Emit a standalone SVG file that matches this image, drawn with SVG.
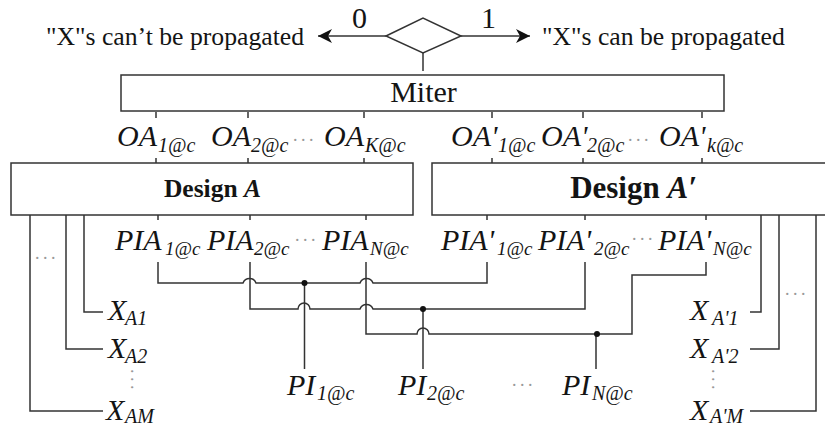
<svg xmlns="http://www.w3.org/2000/svg" width="825" height="428" viewBox="0 0 825 428">
<style>
text{font-family:"Liberation Serif","Times New Roman",serif;fill:#141414}
.m{font-size:30px;font-style:italic}
.s{font-size:20px;font-style:italic}
.n{font-size:19px;font-style:italic}
.c{font-size:25.700px}
.d{fill:#999;font-size:18px;letter-spacing:3.500px}
.b{fill:#fff;stroke:#333;stroke-width:1.500}
.l{fill:none;stroke:#333;stroke-width:1.500}
.j{fill:#111}
</style>
<defs>
<marker id="ah" markerWidth="16" markerHeight="14" refX="14" refY="7" orient="auto-start-reverse" markerUnits="userSpaceOnUse"><path d="M0 0L14 7L0 14L4 7Z" fill="#111"/></marker>
</defs>
<rect width="825" height="428" fill="#fff"/>
<g id="connectors">
<path class="l" d="M386 36H318" marker-end="url(#ah)"/>
<path class="l" d="M461 36H530" marker-end="url(#ah)"/>
<path class="l" d="M423 53V71"/>
<path class="l" d="M156 112V118M248 112V118M364 112V118M492 112V118M583 112V118M702 112V118"/>
<path class="l" d="M156 158V163M248 158V163M364 158V163M492 158V163M583 158V163M702 158V163"/>
<path class="l" d="M158 215V220M250 215V220M366 215V220M487 215V220M585 215V220M706 215V220"/>
<path class="l" d="M158 262V283H243a7 7 0 0 1 13 0H360a7 7 0 0 1 13 0H487V262"/>
<path class="l" d="M250 262V309H298a6 6 0 0 1 12 0H360a7 7 0 0 1 13 0H585V262"/>
<path class="l" d="M366 262V334H417a6 6 0 0 1 12 0H632V275H706V262"/>
<path class="l" d="M304.500 283V369M423 309V369M596 334V369"/>
<path class="l" d="M84 215V312H103M66 215V349H103M30 215V411H103"/>
<path class="l" d="M761 215V312H750M779 215V349H750M816 215V411H750"/>
<circle class="j" cx="304.500" cy="283" r="3"/>
<circle class="j" cx="423" cy="309" r="3"/>
<circle class="j" cx="597" cy="334" r="3"/>
</g>
<g id="decision"><path class="b" d="M386 36L423 18L461 36L423 53Z"/></g>
<g id="miter"><rect class="b" x="121" y="75" width="603" height="36"/><text x="423.500" y="101.500" font-size="30" text-anchor="middle">Miter</text></g>
<g id="design-a"><rect class="b" x="11" y="163" width="402" height="52"/><text x="212.500" y="197" font-size="25.500" font-weight="bold" text-anchor="middle">Design <tspan font-style="italic">A</tspan></text></g>
<g id="design-a-prime"><rect class="b" x="432" y="163" width="400" height="52"/><text x="633.500" y="198" font-size="31" font-weight="bold" text-anchor="middle">Design <tspan font-style="italic">A′</tspan></text></g>
<g id="labels-top">
<text x="46" y="45" class="c">"X"s can’t be propagated</text>
<text x="542" y="45" class="c">"X"s can be propagated</text>
<text x="352" y="28" font-size="30">0</text>
<text x="481" y="28" font-size="30">1</text>
</g>
<g id="outputs-a">
<text x="117" y="146" class="m">OA<tspan class="s" x="158" y="152">1@c</tspan></text>
<text x="211" y="146" class="m">OA<tspan class="s" x="251" y="152">2@c</tspan></text>
<text x="293" y="141" class="d">...</text>
<text x="324" y="146" class="m">OA<tspan class="s" x="365" y="152">K@c</tspan></text>
</g>
<g id="outputs-a-prime">
<text x="451" y="146" class="m">OA'<tspan class="s" x="498" y="152">1@c</tspan></text>
<text x="541" y="146" class="m">OA'<tspan class="s" x="587" y="152">2@c</tspan></text>
<text x="628" y="141" class="d">...</text>
<text x="659" y="146" class="m">OA'<tspan class="s" x="707" y="152">k@c</tspan></text>
</g>
<g id="inputs-a">
<text x="115" y="250" class="m">PIA<tspan class="n" x="165" y="255">1@c</tspan></text>
<text x="207" y="250" class="m">PIA<tspan class="n" x="254" y="255">2@c</tspan></text>
<text x="295" y="241" class="d">...</text>
<text x="322" y="250" class="m">PIA<tspan class="n" x="370" y="255">N@c</tspan></text>
</g>
<g id="inputs-a-prime">
<text x="441" y="250" class="m">PIA'<tspan class="n" x="497" y="255">1@c</tspan></text>
<text x="538" y="250" class="m">PIA'<tspan class="n" x="594" y="255">2@c</tspan></text>
<text x="632" y="240" class="d">...</text>
<text x="658" y="250" class="m">PIA'<tspan class="n" x="713" y="255">N@c</tspan></text>
</g>
<g id="primary-inputs">
<text x="287" y="395" class="m">PI<tspan class="s" x="317" y="400">1@c</tspan></text>
<text x="398" y="395" class="m">PI<tspan class="s" x="427" y="400">2@c</tspan></text>
<text x="512" y="386" class="d">...</text>
<text x="562" y="395" class="m">PI<tspan class="s" x="592" y="400">N@c</tspan></text>
</g>
<g id="x-a">
<text x="35" y="259" class="d">...</text>
<text x="108" y="320" class="m">X<tspan class="s" x="125" y="325">A1</tspan></text>
<text x="108" y="358" class="m">X<tspan class="s" x="125" y="363">A2</tspan></text>
<text transform="translate(131 369) rotate(90)" class="d">...</text>
<text x="106" y="420" class="m">X<tspan class="s" x="125" y="423">AM</tspan></text>
</g>
<g id="x-a-prime">
<text x="785" y="295" class="d">...</text>
<text x="690" y="320" class="m">X<tspan class="s" x="712" y="325">A'1</tspan></text>
<text x="690" y="358" class="m">X<tspan class="s" x="712" y="363">A'2</tspan></text>
<text transform="translate(712 369) rotate(90)" class="d">...</text>
<text x="690" y="420" class="m">X<tspan class="s" x="710" y="423">A'M</tspan></text>
</g>
</svg>
